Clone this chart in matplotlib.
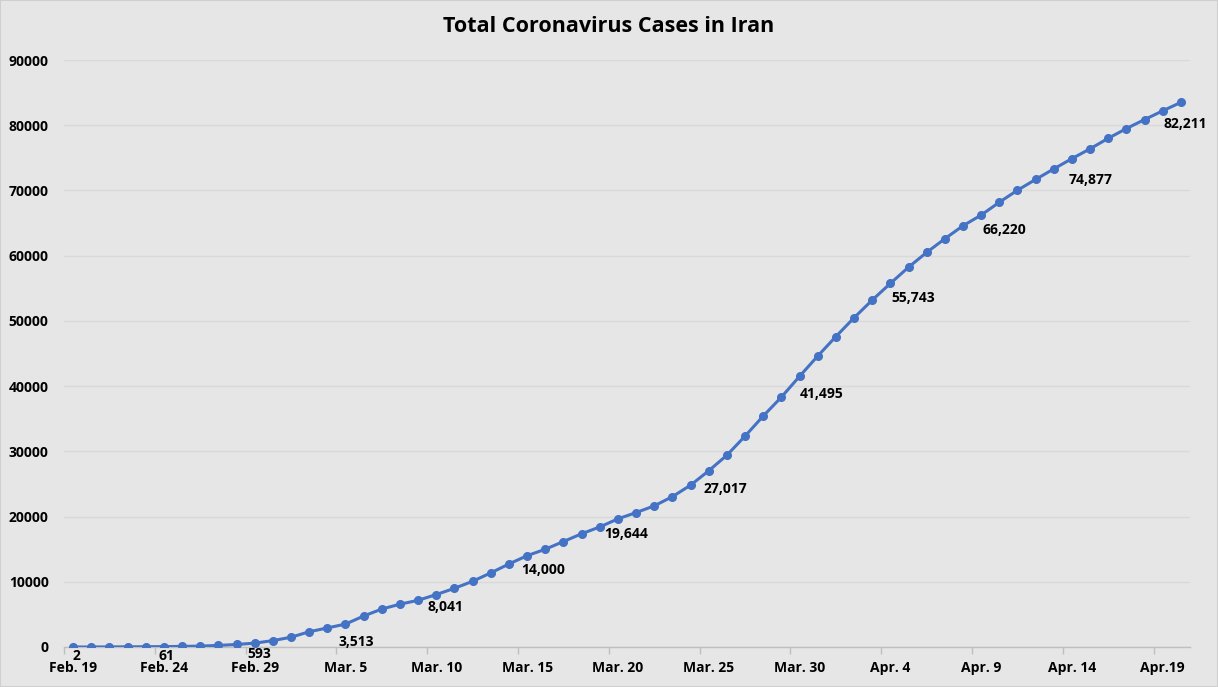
import numpy as np
import matplotlib.pyplot as plt
from matplotlib.patches import Rectangle

dates = ['Feb. 19', 'Feb. 20', 'Feb. 21', 'Feb. 22', 'Feb. 23', 'Feb. 24', 'Feb. 25',
         'Feb. 26', 'Feb. 27', 'Feb. 28', 'Feb. 29', 'Mar. 1', 'Mar. 2', 'Mar. 3',
         'Mar. 4', 'Mar. 5', 'Mar. 6', 'Mar. 7', 'Mar. 8', 'Mar. 9', 'Mar. 10',
         'Mar. 11', 'Mar. 12', 'Mar. 13', 'Mar. 14', 'Mar. 15', 'Mar. 16', 'Mar. 17',
         'Mar. 18', 'Mar. 19', 'Mar. 20', 'Mar. 21', 'Mar. 22', 'Mar. 23', 'Mar. 24',
         'Mar. 25', 'Mar. 26', 'Mar. 27', 'Mar. 28', 'Mar. 29', 'Mar. 30', 'Mar. 31',
         'Apr. 1', 'Apr. 2', 'Apr. 3', 'Apr. 4', 'Apr. 5', 'Apr. 6', 'Apr. 7', 'Apr. 8',
         'Apr. 9', 'Apr. 10', 'Apr. 11', 'Apr. 12', 'Apr. 13', 'Apr. 14', 'Apr. 15',
         'Apr. 16', 'Apr. 17', 'Apr. 18', 'Apr.19', 'Apr. 20']

cases = [2, 5, 18, 28, 43, 61, 95, 139, 245, 388, 593, 978, 1501, 2336, 2922, 3513,
         4747, 5823, 6566, 7161, 8041, 9000, 10075, 11364, 12729, 14000, 14991, 16169,
         17361, 18407, 19644, 20610, 21638, 23049, 24811, 27017, 29406, 32332, 35408,
         38309, 41495, 44605, 47593, 50468, 53183, 55743, 58226, 60500, 62589, 64586,
         66220, 68192, 70029, 71686, 73303, 74877, 76389, 77995, 79494, 80868, 82211,
         83505]

# every 5th day gets a tick label and a data label
label_idx = list(range(0, 61, 5))
# label nudges (pixels: left edge vs point, top edge below point), as placed in the original
label_dx = [-1, -5, -7, -7, -9, -6, -14, -5, 0, 1, 1, -3, 1]
label_dy = [2, 2, 4, 11, 5, 7, 8, 11, 11, 8, 8, 14, 6]

plt.rcParams['font.family'] = ['Open Sans', 'DejaVu Sans']
bg = '#E7E6E6'

fig = plt.figure(figsize=(12.18, 6.87), dpi=100, facecolor=bg)
ax = fig.add_axes([64 / 1218, 1 - 647 / 687, (1190 - 64) / 1218, (647 - 60) / 687])
ax.set_facecolor(bg)
fig.patches.append(Rectangle((0, 0), 1, 1, transform=fig.transFigure,
                             fill=False, edgecolor='#CFCFCF', linewidth=1.5))

x = np.arange(len(cases))
ax.plot(x, cases, color='#4472C4', linewidth=2.2, marker='o', markersize=5.5, zorder=3)

for k, i in enumerate(label_idx):
    ax.annotate(f'{cases[i]:,}', (x[i], cases[i]), xytext=(label_dx[k], -label_dy[k]),
                textcoords='offset pixels', ha='left', va='top',
                fontsize=10, fontweight='bold', color='black')

ax.set_xlim(-0.5, len(cases) - 0.5)
ax.set_ylim(0, 90000)
ax.set_yticks(np.arange(0, 90001, 10000))
ax.set_yticklabels([str(v) for v in range(0, 90001, 10000)])
ax.set_xticks(label_idx)
ax.set_xticklabels([dates[i] for i in label_idx])
ax.set_xticks(np.arange(-0.5, len(cases), 5), minor=True)

ax.grid(axis='y', color='#D9D9D9', linewidth=1)
ax.set_axisbelow(True)
for s in ['top', 'right', 'left']:
    ax.spines[s].set_visible(False)
ax.spines['bottom'].set_color('#BFBFBF')
ax.spines['bottom'].set_linewidth(1)

ax.tick_params(axis='y', length=0, pad=11, labelsize=10)
ax.tick_params(axis='x', which='major', length=0, pad=10, labelsize=10)
ax.tick_params(axis='x', which='minor', length=5, color='#BFBFBF', width=1)
for t in ax.get_xticklabels() + ax.get_yticklabels():
    t.set_fontweight('bold')

fig.text(0.5, 1 - 27 / 687, 'Total Coronavirus Cases in Iran', ha='center', va='center',
         fontsize=15.5, fontweight='bold')

fig.savefig('out.png', dpi=100, facecolor=bg)
